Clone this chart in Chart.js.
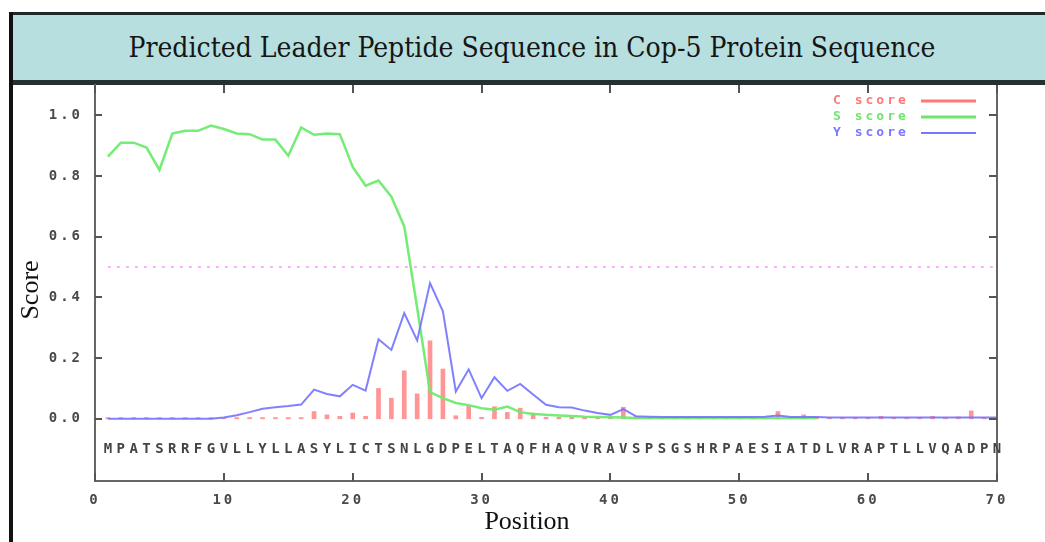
<!DOCTYPE html>
<html>
<head>
<meta charset="utf-8">
<script src="https://cdn.jsdelivr.net/npm/chart.js@4.4.1/dist/chart.umd.min.js"></script>
<style>
  html, body { margin: 0; padding: 0; background: #fff; width: 1045px; height: 542px; overflow: hidden; }
  #frame { position: absolute; left: 9px; top: 12px; width: 4px; height: 530px; background: #111; }
  #banner {
    position: absolute; left: 9px; top: 12px; width: 1026px; height: 65px; padding-left: 10px;
    background: #b7dfe0; border-top: 3px solid #1e2a2a; border-bottom: 5px solid #253030;
    display: flex; align-items: center; justify-content: center;
    font-family: "DejaVu Serif Condensed", "DejaVu Serif", serif; font-size: 28px; color: #151515;
  }
  canvas { position: absolute; left: 0; top: 0; }
</style>
</head>
<body>
<div id="banner">Predicted Leader Peptide Sequence in Cop-5 Protein Sequence</div>
<div id="frame"></div>
<canvas id="chart" width="1045" height="542"></canvas>
<script>
// Protein sequence, one residue per position (1..70)
const residues = 'MPATSRRFGVLLYLLASYLICTSNLGDPELTAQFHAQVRAVSPSGSHRPAESIATDLVRAPTLLVQADPN'.split('');

// Raw cleavage-site score per position (1..70)
const cScore = [
  0.004, 0.004, 0.004, 0.004, 0.004, 0.004, 0.004, 0.004, 0.004, 0.004,
  0.004, 0.004, 0.004, 0.004, 0.004, 0.004, 0.024, 0.013, 0.008, 0.019,
  0.008, 0.100, 0.068, 0.158, 0.082, 0.257, 0.164, 0.010, 0.043, 0.005,
  0.040, 0.021, 0.035, 0.019, 0.005, 0.005, 0.005, 0.005, 0.005, 0.005,
  0.038, 0.008, 0.004, 0.004, 0.004, 0.004, 0.004, 0.004, 0.004, 0.004,
  0.004, 0.004, 0.024, 0.005, 0.013, 0.004, 0.004, 0.004, 0.004, 0.004,
  0.008, 0.004, 0.004, 0.004, 0.008, 0.004, 0.006, 0.026, 0.004, 0.004
];

// Signal peptide score per position (1..56)
const sScore = [
  0.864, 0.910, 0.910, 0.894, 0.820, 0.940, 0.949, 0.949, 0.966, 0.955,
  0.940, 0.938, 0.920, 0.920, 0.867, 0.960, 0.936, 0.940, 0.938, 0.830,
  0.768, 0.785, 0.732, 0.634, 0.366, 0.088, 0.068, 0.052, 0.045, 0.035,
  0.030, 0.040, 0.022, 0.016, 0.013, 0.011, 0.009, 0.007, 0.006, 0.005,
  0.004, 0.003, 0.003, 0.003, 0.003, 0.003, 0.003, 0.003, 0.003, 0.003,
  0.003, 0.003, 0.003, 0.003, 0.003, 0.003
];

// Combined cleavage-site score per position (1..70)
const yScore = [
  0.000, 0.000, 0.000, 0.000, 0.000, 0.000, 0.000, 0.000, 0.000, 0.004,
  0.012, 0.022, 0.033, 0.038, 0.042, 0.047, 0.096, 0.082, 0.074, 0.112,
  0.093, 0.262, 0.227, 0.348, 0.258, 0.447, 0.354, 0.090, 0.163, 0.068,
  0.137, 0.092, 0.115, 0.080, 0.046, 0.038, 0.037, 0.027, 0.019, 0.013,
  0.032, 0.008, 0.007, 0.006, 0.006, 0.006, 0.006, 0.006, 0.006, 0.006,
  0.006, 0.007, 0.011, 0.006, 0.006, 0.006, 0.004, 0.004, 0.004, 0.004,
  0.004, 0.004, 0.004, 0.004, 0.004, 0.004, 0.004, 0.004, 0.004, 0.004
];

const seriesNames = ['C score', 'S score', 'Y score'];
const cutoff = 0.5;             // decision threshold for the S score
const cutoffSpan = [1, 70];
const seqRowLevel = -0.1;       // score level on which the residue letters sit
const xTicks = [0, 10, 20, 30, 40, 50, 60, 70];
const yTicks = [0.0, 0.2, 0.4, 0.6, 0.8, 1.0];
const axisRange = { xMin: 0, xMax: 70, yMin: -0.205, yMax: 1.1 };

const toPoints = arr => arr.map((v, i) => ({ x: i + 1, y: v }));

const colC = 'rgba(255,130,130,0.85)';
const colS = 'rgba(110,235,110,0.95)';
const colY = 'rgba(115,115,255,0.9)';
const monoFont = 'bold 14px "DejaVu Sans Mono", monospace';

// Inner tick marks, right frame, residue row, legend and axis titles
const gnuplotDecor = {
  id: 'gnuplotDecor',
  beforeDraw(chart) {
    chart.ctx.letterSpacing = '3px';
  },
  afterDraw(chart) {
    const { ctx, chartArea: a, scales: { x, y } } = chart;
    ctx.save();
    ctx.letterSpacing = '0px';

    // right frame line
    ctx.strokeStyle = '#666';
    ctx.lineWidth = 2;
    ctx.beginPath();
    ctx.moveTo(a.right, a.top);
    ctx.lineTo(a.right, a.bottom);
    ctx.stroke();

    // inward tick marks on all four sides
    ctx.strokeStyle = '#555';
    ctx.lineWidth = 2;
    ctx.beginPath();
    xTicks.forEach(v => {
      const px = Math.round(x.getPixelForValue(v));
      ctx.moveTo(px, a.bottom); ctx.lineTo(px, a.bottom - 8);
      ctx.moveTo(px, a.top); ctx.lineTo(px, a.top + 8);
    });
    yTicks.forEach(v => {
      const py = Math.round(y.getPixelForValue(v));
      ctx.moveTo(a.left, py); ctx.lineTo(a.left + 7, py);
      ctx.moveTo(a.right, py); ctx.lineTo(a.right - 8, py);
    });
    ctx.stroke();

    // residue letters under the curves
    ctx.font = monoFont;
    ctx.fillStyle = '#444';
    ctx.textAlign = 'center';
    ctx.textBaseline = 'middle';
    const rowY = y.getPixelForValue(seqRowLevel);
    residues.forEach((r, i) => {
      ctx.fillText(r, x.getPixelForValue(i + 1), rowY);
    });

    // legend: label followed by a line sample
    ctx.font = 'bold 13px "DejaVu Sans Mono", monospace';
    ctx.letterSpacing = '3px';
    ctx.textAlign = 'left';
    const legX = 833, lineX0 = 921, lineX1 = 976;
    seriesNames.forEach((name, i) => {
      const ds = chart.data.datasets[i];
      const ly = 101 + i * 16;
      ctx.fillStyle = ds.legendColor;
      ctx.fillText(name, legX, ly);
      ctx.strokeStyle = ds.legendColor;
      ctx.lineWidth = i === 2 ? 2 : 3;
      ctx.beginPath();
      ctx.moveTo(lineX0, ly);
      ctx.lineTo(lineX1, ly);
      ctx.stroke();
    });

    // axis titles
    ctx.letterSpacing = '0px';
    ctx.fillStyle = '#111';
    ctx.font = '26px "Liberation Serif", "Times New Roman", serif';
    ctx.textAlign = 'center';
    ctx.textBaseline = 'middle';
    ctx.fillText('Position', 527, 522);
    ctx.translate(31, 290);
    ctx.rotate(-Math.PI / 2);
    ctx.fillText('Score', 0, 0);
    ctx.restore();
  }
};

new Chart(document.getElementById('chart'), {
  type: 'line',
  data: {
    datasets: [
      {
        type: 'bar',
        label: seriesNames[0],
        data: toPoints(cScore),
        backgroundColor: colC,
        legendColor: 'rgb(255,120,120)',
        barThickness: 4,
        order: 2
      },
      {
        label: seriesNames[1],
        data: toPoints(sScore),
        borderColor: colS,
        legendColor: 'rgb(110,230,110)',
        borderWidth: 2.5,
        pointRadius: 0,
        tension: 0,
        order: 1
      },
      {
        label: seriesNames[2],
        data: toPoints(yScore),
        borderColor: colY,
        legendColor: 'rgb(120,120,255)',
        borderWidth: 2,
        pointRadius: 0,
        tension: 0,
        order: 0
      },
      {
        label: 'cutoff',
        data: cutoffSpan.map(p => ({ x: p, y: cutoff })),
        borderColor: 'rgba(255,165,255,0.9)',
        borderWidth: 2,
        borderDash: [3, 6],
        pointRadius: 0,
        order: 3
      }
    ]
  },
  options: {
    responsive: false,
    animation: false,
    devicePixelRatio: 1,
    layout: { padding: { top: 85, right: 48, left: 0, bottom: 0 } },
    plugins: { legend: { display: false }, tooltip: { enabled: false }, title: { display: false } },
    scales: {
      x: {
        type: 'linear',
        min: axisRange.xMin,
        max: axisRange.xMax,
        offset: false,
        afterFit: s => { s.height = 61; },
        afterBuildTicks: s => { s.ticks = xTicks.map(v => ({ value: v })); },
        grid: { display: false, drawTicks: false },
        border: { display: true, color: '#666', width: 2 },
        ticks: {
          autoSkip: false, maxRotation: 0, padding: 11,
          color: '#4a4a4a',
          font: { family: '"DejaVu Sans Mono", monospace', size: 14, weight: 'bold' },
          callback: v => String(v)
        }
      },
      y: {
        type: 'linear',
        min: axisRange.yMin,
        max: axisRange.yMax,
        afterFit: s => { s.width = 95; },
        afterBuildTicks: s => { s.ticks = yTicks.map(v => ({ value: v })); },
        grid: { display: false, drawTicks: false },
        border: { display: true, color: '#666', width: 2 },
        ticks: {
          padding: 12,
          color: '#4a4a4a',
          font: { family: '"DejaVu Sans Mono", monospace', size: 14, weight: 'bold' },
          callback: v => Number(v).toFixed(1)
        }
      }
    }
  },
  plugins: [gnuplotDecor]
});
</script>
</body>
</html>
